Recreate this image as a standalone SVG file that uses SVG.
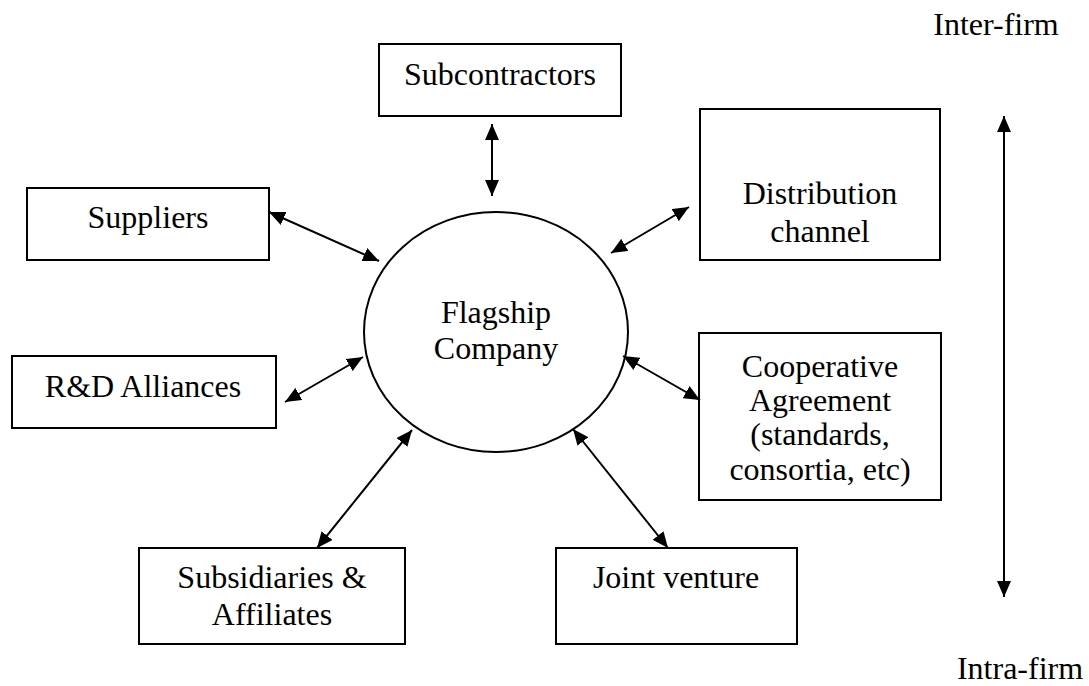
<svg xmlns="http://www.w3.org/2000/svg" width="1089" height="686" viewBox="0 0 1089 686">
  <style>
    .box { fill: #ffffff; stroke: #000000; stroke-width: 2; }
    .hub { fill: #ffffff; stroke: #000000; stroke-width: 2; }
    text { font-family: 'Liberation Serif', 'Times New Roman', 'DejaVu Serif', serif; font-size: 32px; fill: #000000; text-anchor: middle; }
    .link { stroke: #000000; stroke-width: 2; fill: none; marker-start: url(#head); marker-end: url(#head); }
  </style>
  <defs>
    <!-- solid triangular head shared by every two-way connector -->
    <marker id="head" viewBox="0 0 16 14" refX="16" refY="7" markerWidth="16" markerHeight="14" markerUnits="userSpaceOnUse" orient="auto-start-reverse">
      <path d="M0,0 L16,7 L0,14 z" fill="#000000"/>
    </marker>
  </defs>
  <rect width="1089" height="686" fill="#ffffff"/>

  <g id="subcontractors">
    <rect class="box" x="379" y="44" width="242" height="72"/>
    <text x="500" y="85">Subcontractors</text>
  </g>

  <g id="suppliers">
    <rect class="box" x="27" y="188" width="242" height="72"/>
    <text x="148" y="228">Suppliers</text>
  </g>

  <g id="distribution-channel">
    <rect class="box" x="700" y="109" width="240" height="151"/>
    <text x="820" y="204">Distribution</text>
    <text x="820" y="242">channel</text>
  </g>

  <g id="flagship-company">
    <ellipse class="hub" cx="496" cy="332" rx="132" ry="120"/>
    <text x="496" y="323">Flagship</text>
    <text x="496" y="359">Company</text>
  </g>

  <g id="rd-alliances">
    <rect class="box" x="12" y="356" width="264" height="72"/>
    <text x="143" y="397">R&amp;D Alliances</text>
  </g>

  <g id="cooperative-agreement">
    <rect class="box" x="699" y="333" width="242" height="167"/>
    <text x="820" y="377">Cooperative</text>
    <text x="820" y="411">Agreement</text>
    <text x="820" y="445">(standards,</text>
    <text x="820" y="480">consortia, etc)</text>
  </g>

  <g id="subsidiaries-affiliates">
    <rect class="box" x="139" y="548" width="266" height="96"/>
    <text x="272" y="588">Subsidiaries &amp;</text>
    <text x="272" y="625">Affiliates</text>
  </g>

  <g id="joint-venture">
    <rect class="box" x="556" y="548" width="241" height="96"/>
    <text x="676" y="588">Joint venture</text>
  </g>

  <g id="scale-labels">
    <text x="996" y="35">Inter-firm</text>
    <text x="1020" y="679">Intra-firm</text>
  </g>

  <g id="connectors">
    <line class="link" x1="492" y1="124" x2="492" y2="196"/>
    <line class="link" x1="269" y1="212" x2="379" y2="261"/>
    <line class="link" x1="611" y1="253" x2="689" y2="207"/>
    <line class="link" x1="285" y1="402" x2="363" y2="357"/>
    <line class="link" x1="623" y1="356" x2="700" y2="400"/>
    <line class="link" x1="412" y1="430" x2="317" y2="548"/>
    <line class="link" x1="573" y1="429" x2="668" y2="548"/>
    <line class="link" x1="1004" y1="116" x2="1004" y2="597"/>
  </g>
</svg>
